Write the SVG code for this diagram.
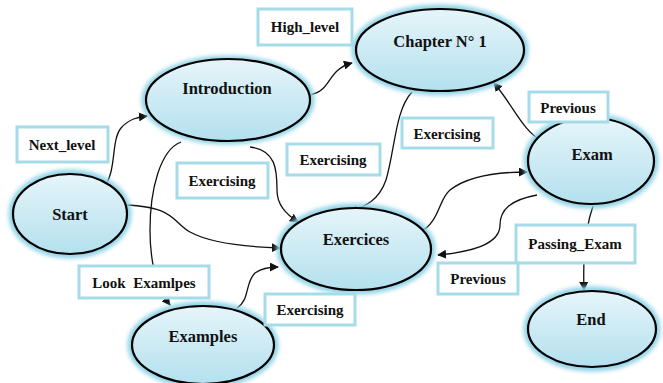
<svg xmlns="http://www.w3.org/2000/svg" width="663" height="383" viewBox="0 0 663 383">
<style>
.node ellipse.body{fill:url(#g);stroke:#000;stroke-width:2.2}
.node ellipse.halo{fill:none;stroke:#8fd3e6;stroke-width:7;filter:url(#blur)}
.node text{font-family:'Liberation Serif','Times New Roman','DejaVu Serif',serif;font-weight:bold;font-size:16.5px;text-anchor:middle;fill:#111}
.lbl rect{fill:#fff;stroke:#a6dbe9;stroke-width:3}
.lbl text{font-family:'Liberation Serif','Times New Roman','DejaVu Serif',serif;font-weight:bold;font-size:15px;text-anchor:middle;fill:#111}
#connectors path{fill:none;stroke:#111;stroke-width:1.3;marker-end:url(#arr)}
</style>
<defs>
<linearGradient id="g" x1="0" y1="0" x2="0" y2="1">
<stop offset="0" stop-color="#e6f5fa"/>
<stop offset="1" stop-color="#b3e0ee"/>
</linearGradient>
<filter id="blur" x="-20%" y="-20%" width="140%" height="140%"><feGaussianBlur stdDeviation="2"/></filter>
<marker id="arr" viewBox="0 0 10 10" refX="9" refY="5" markerWidth="9" markerHeight="9" markerUnits="userSpaceOnUse" orient="auto">
<path d="M0,0 L10,5 L0,10 z" fill="#111"/>
</marker>
</defs>
<rect width="663" height="383" fill="#fff"/>

<g id="connectors">
<path d="M102,190 C118,172 110,142 121,128 C129,119 138,117 147,116"/>
<path d="M310,95 C333,90 326,70 352,63"/>
<path d="M181,142 C160,150 150,190 150,230 C150,270 160,292 170,305"/>
<path d="M250,147 C276,150 277,170 277,190 C277,205 286,214 298,222"/>
<path d="M412,92 C395,110 395,150 386,180 C379,200 366,206 350,212"/>
<path d="M118,205 C175,205 172,222 190,232 C210,243 250,247 280,248"/>
<path d="M237,308 C250,300 245,282 255,273 C262,268 270,267 278,267"/>
<path d="M419,233 C440,222 438,200 450,190 C468,176 500,172 527,172"/>
<path d="M543,142 C522,130 515,108 494,83"/>
<path d="M537,195 C510,200 500,210 500,225 C500,245 470,252 438,255"/>
<path d="M593,206 C584,232 583,262 584,290"/>
</g>

<g id="start" class="node"><ellipse class="halo" cx="70" cy="214" rx="58" ry="41"/><ellipse class="body" cx="70" cy="214" rx="57" ry="40"/><text x="70" y="220">Start</text></g>
<g id="introduction" class="node"><ellipse class="halo" cx="228" cy="100" rx="83" ry="41"/><ellipse class="body" cx="228" cy="100" rx="82" ry="41"/><text x="227" y="94">Introduction</text></g>
<g id="chapter1" class="node"><ellipse class="halo" cx="440" cy="50" rx="85" ry="42"/><ellipse class="body" cx="440" cy="50" rx="84" ry="41"/><text x="440" y="47">Chapter N° 1</text></g>
<g id="exam" class="node"><ellipse class="halo" cx="591" cy="161" rx="64" ry="44"/><ellipse class="body" cx="591" cy="161" rx="63" ry="43"/><text x="592" y="160">Exam</text></g>
<g id="exercices" class="node"><ellipse class="halo" cx="356" cy="249" rx="76" ry="42"/><ellipse class="body" cx="356" cy="249" rx="75" ry="41"/><text x="356" y="245">Exercices</text></g>
<g id="examples" class="node"><ellipse class="halo" cx="203" cy="345" rx="72" ry="40"/><ellipse class="body" cx="203" cy="345" rx="71" ry="39"/><text x="203" y="342">Examples</text></g>
<g id="end" class="node"><ellipse class="halo" cx="592" cy="329" rx="65" ry="39"/><ellipse class="body" cx="592" cy="329" rx="64" ry="38"/><text x="591" y="325">End</text></g>

<g id="lbl-high" class="lbl"><rect x="258" y="9" width="94" height="36"/><text x="305" y="32">High_level</text></g>
<g id="lbl-next" class="lbl"><rect x="17" y="127" width="91" height="35"/><text x="62" y="150">Next_level</text></g>
<g id="lbl-ex1" class="lbl"><rect x="177" y="163" width="91" height="35"/><text x="222" y="186">Exercising</text></g>
<g id="lbl-ex2" class="lbl"><rect x="287" y="144" width="93" height="31"/><text x="333" y="165">Exercising</text></g>
<g id="lbl-ex3" class="lbl"><rect x="402" y="118" width="91" height="30"/><text x="447" y="139">Exercising</text></g>
<g id="lbl-prev1" class="lbl"><rect x="529" y="92" width="79" height="30"/><text x="568" y="113">Previous</text></g>
<g id="lbl-look" class="lbl"><rect x="79" y="266" width="130" height="32"/><text x="144" y="288" xml:space="preserve">Look  Examlpes</text></g>
<g id="lbl-ex4" class="lbl"><rect x="265" y="294" width="90" height="31"/><text x="310" y="315">Exercising</text></g>
<g id="lbl-pass" class="lbl"><rect x="516" y="225" width="119" height="38"/><text x="575" y="249">Passing_Exam</text></g>
<g id="lbl-prev2" class="lbl"><rect x="438" y="263" width="80" height="31"/><text x="478" y="284">Previous</text></g>
</svg>
